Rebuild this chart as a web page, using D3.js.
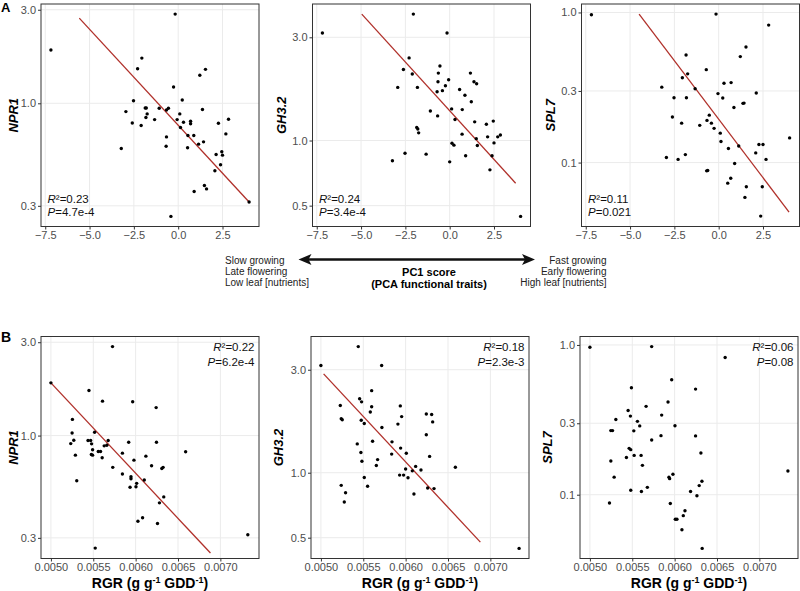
<!DOCTYPE html>
<html><head><meta charset="utf-8">
<script src="https://cdn.jsdelivr.net/npm/d3@7"></script>
<style>
body{margin:0;background:#fff}
svg{display:block}
text{font-family:"Liberation Sans",Arial,Helvetica,sans-serif}
</style>
</head><body>
<svg id="chart" width="800" height="591"></svg>
<script>
// ---------------- DATA ----------------
// Panel A: PC1 score vs expression
const pc1_npr1 = [[-7.18,1.87],[-0.17,2.85],[-2.05,1.70],[-2.29,1.50],[1.22,1.39],[1.54,1.49],[-0.26,1.21],[-2.52,1.03],[0.23,1.04],[-2.95,0.907],[-1.86,0.947],[-1.80,0.947],[-1.75,0.883],[-1.82,0.846],[-2.59,0.794],[-2.09,0.77],[-1.33,0.826],[-1.07,0.943],[-0.55,0.943],[-0.66,0.925],[0.09,0.883],[-0.06,0.826],[0.30,0.80],[0.13,0.752],[0.70,0.81],[0.70,0.786],[1.37,0.929],[2.27,0.791],[2.84,0.829],[2.69,0.698],[-0.66,0.674],[-0.68,0.604],[0.55,0.685],[0.88,0.685],[0.53,0.593],[1.15,0.619],[1.43,0.636],[-3.21,0.588],[2.14,0.548],[2.46,0.566],[2.50,0.544],[2.39,0.486],[2.07,0.453],[1.48,0.381],[1.60,0.366],[0.90,0.355],[4.00,0.314],[-0.41,0.265]];
const pc1_gh32 = [[-7.18,3.14],[-2.05,3.84],[-0.15,3.14],[-2.29,2.41],[-2.61,2.13],[-2.11,2.03],[-0.55,2.21],[-0.64,2.05],[-0.06,1.91],[-0.66,1.87],[-0.24,1.79],[-0.71,1.68],[-0.41,1.70],[-2.93,1.76],[-1.82,1.76],[1.17,2.05],[1.37,1.87],[1.52,1.83],[0.56,1.72],[0.86,1.62],[1.22,1.51],[-1.09,1.37],[-0.68,1.30],[0.11,1.40],[0.30,1.25],[0.71,1.39],[1.41,1.22],[2.07,1.19],[2.46,1.23],[-1.86,1.15],[-1.80,1.13],[-1.75,1.085],[0.70,1.07],[1.50,1.02],[2.14,1.04],[2.71,1.04],[2.86,1.06],[0.13,0.972],[0.24,0.952],[1.56,0.948],[2.50,0.975],[-2.52,0.874],[-1.33,0.865],[0.90,0.85],[2.39,0.85],[-3.23,0.806],[0.00,0.797],[2.27,0.732],[4.00,0.446]];
const pc1_spl7 = [[-7.18,0.965],[-0.15,0.975],[2.82,0.824],[1.54,0.589],[1.22,0.508],[-1.84,0.521],[-0.70,0.416],[-1.75,0.390],[-2.05,0.367],[0.30,0.338],[0.70,0.341],[-3.21,0.318],[-1.33,0.310],[-0.04,0.288],[2.12,0.291],[-2.52,0.270],[-1.82,0.270],[0.23,0.269],[1.37,0.248],[1.43,0.249],[0.86,0.233],[-2.61,0.201],[-0.53,0.207],[-0.66,0.191],[-0.41,0.183],[-2.09,0.183],[-1.07,0.177],[-0.26,0.169],[0.09,0.157],[0.13,0.138],[0.55,0.124],[1.13,0.129],[2.27,0.132],[2.50,0.132],[4.00,0.146],[-2.95,0.108],[-1.88,0.113],[-2.29,0.105],[2.09,0.116],[2.67,0.105],[0.90,0.0985],[-0.68,0.0881],[-0.62,0.0885],[0.68,0.0787],[0.51,0.0729],[1.56,0.069],[2.46,0.069],[1.48,0.0586],[2.37,0.044]];
// Panel B: RGR vs expression
const rgr_npr1 = [[0.00500,1.86],[0.005727,2.85],[0.005449,1.70],[0.005609,1.50],[0.005965,1.49],[0.006242,1.39],[0.005254,1.21],[0.005250,1.03],[0.005516,1.04],[0.005234,0.91],[0.005270,0.947],[0.005438,0.944],[0.005469,0.944],[0.005480,0.907],[0.005492,0.846],[0.005289,0.794],[0.005477,0.80],[0.005492,0.794],[0.005559,0.829],[0.005586,0.829],[0.005605,0.770],[0.005629,0.886],[0.005660,0.893],[0.005676,0.943],[0.005918,0.925],[0.006246,0.925],[0.005844,0.813],[0.005980,0.749],[0.006121,0.785],[0.006188,0.701],[0.006309,0.679],[0.006324,0.688],[0.006590,0.826],[0.005730,0.688],[0.005844,0.636],[0.005945,0.616],[0.005945,0.602],[0.006102,0.593],[0.006012,0.570],[0.006004,0.548],[0.005934,0.544],[0.005305,0.588],[0.006332,0.486],[0.006281,0.453],[0.006082,0.380],[0.006027,0.365],[0.006258,0.355],[0.007324,0.311],[0.005523,0.266]];
const rgr_gh32 = [[0.00500,3.14],[0.005441,3.84],[0.005717,3.14],[0.005599,2.40],[0.005229,2.05],[0.005457,2.20],[0.005480,2.13],[0.005599,2.02],[0.005583,1.91],[0.005937,2.04],[0.005953,1.82],[0.005240,1.78],[0.005252,1.76],[0.005476,1.75],[0.005512,1.69],[0.005909,1.68],[0.005720,1.62],[0.006244,1.87],[0.006307,1.86],[0.006319,1.72],[0.006244,1.50],[0.005429,1.36],[0.005610,1.40],[0.005839,1.39],[0.005941,1.30],[0.005472,1.24],[0.005835,1.22],[0.006008,1.23],[0.006283,1.19],[0.005484,1.13],[0.005669,1.15],[0.005654,1.08],[0.006118,1.07],[0.006181,1.03],[0.006079,1.02],[0.006000,1.04],[0.006587,1.06],[0.005929,0.975],[0.005976,0.975],[0.006028,0.948],[0.005512,0.95],[0.005240,0.874],[0.005551,0.865],[0.006098,0.797],[0.006260,0.85],[0.006335,0.844],[0.005291,0.808],[0.005276,0.732],[0.007339,0.446]];
const rgr_spl7 = [[0.00500,0.965],[0.005729,0.975],[0.006596,0.824],[0.005965,0.585],[0.005490,0.518],[0.006247,0.507],[0.005922,0.416],[0.005663,0.389],[0.005451,0.365],[0.005478,0.335],[0.005847,0.340],[0.005306,0.318],[0.005561,0.309],[0.005588,0.288],[0.006004,0.289],[0.005247,0.268],[0.005267,0.268],[0.005518,0.267],[0.005839,0.248],[0.006247,0.247],[0.005729,0.232],[0.005463,0.204],[0.005482,0.200],[0.006310,0.190],[0.005431,0.177],[0.005522,0.183],[0.005604,0.183],[0.005247,0.168],[0.005620,0.157],[0.007337,0.144],[0.005980,0.137],[0.005933,0.131],[0.005941,0.128],[0.005286,0.131],[0.006322,0.123],[0.006290,0.115],[0.005678,0.112],[0.005482,0.107],[0.005608,0.105],[0.006188,0.105],[0.006263,0.0984],[0.005231,0.088],[0.005949,0.0873],[0.006122,0.0782],[0.006102,0.0725],[0.006008,0.0685],[0.006027,0.0685],[0.006086,0.0583],[0.006325,0.0438]];
// Fitted regression lines (end points)
const fit_pc1_npr1 = [[-5.58,2.72],[4.00,0.314]];
const fit_pc1_gh32 = [[-4.96,3.84],[3.72,0.635]];
const fit_pc1_spl7 = [[-4.49,0.975],[3.97,0.0468]];
const fit_rgr_npr1 = [[0.00500,1.86],[0.006883,0.251]];
const fit_rgr_gh32 = [[0.005032,2.87],[0.006882,0.477]];
// Statistics labels
const stats_pc1 = [["0.23","4.7e-4"],["0.24","3.4e-4"],["0.11","0.021"]];
const stats_rgr = [["0.22","6.2e-4"],["0.18","2.3e-3"],["0.06","0.08"]];
// Tick values
const genes = ["NPR1","GH3.2","SPL7"];
const yTicks = {"NPR1":[0.3,1.0,3.0],"GH3.2":[0.5,1.0,3.0],"SPL7":[0.1,0.3,1.0]};
const pc1Ticks = [-7.5,-5.0,-2.5,0.0,2.5];
const rgrTicks = [0.0050,0.0055,0.0060,0.0065,0.0070];
// Arrow annotation text
const leftLabels = ["Slow growing","Late flowering","Low leaf [nutrients]"];
const rightLabels = ["Fast growing","Early flowering","High leaf [nutrients]"];
const arrowTitle = ["PC1 score","(PCA functional traits)"];

// ---------------- DRAW ----------------
const svg = d3.select("#chart");
const FIT_COLOR = "#b0302a";

function expandLin(vals){const [a,b]=d3.extent(vals);const e=(b-a)*0.05;return [a-e,b+e];}
function expandLog(vals){const l=vals.map(Math.log10);const [a,b]=d3.extent(l);const e=(b-a)*0.05;return [Math.pow(10,a-e),Math.pow(10,b+e)];}

const allPC1 = pc1_npr1.concat(pc1_gh32,pc1_spl7).map(d=>d[0]);
const allRGR = rgr_npr1.concat(rgr_gh32,rgr_spl7).map(d=>d[0]);
const pc1Dom = expandLin(allPC1);
const rgrDom = expandLin(allRGR);
const yDom = {
  "NPR1": expandLog(pc1_npr1.concat(rgr_npr1).map(d=>d[1])),
  "GH3.2": expandLog(pc1_gh32.concat(rgr_gh32).map(d=>d[1])),
  "SPL7": expandLog(pc1_spl7.concat(rgr_spl7).map(d=>d[1]))
};

const panels = [
  {pts:pc1_npr1, fit:fit_pc1_npr1, gene:"NPR1", row:"A", x0:41,   x1:259,   y0:4, y1:226.5, ytx:13.5, stat:stats_pc1[0]},
  {pts:pc1_gh32, fit:fit_pc1_gh32, gene:"GH3.2", row:"A", x0:312.5, x1:530.5, y0:4, y1:226.5, ytx:281, stat:stats_pc1[1]},
  {pts:pc1_spl7, fit:fit_pc1_spl7, gene:"SPL7", row:"A", x0:581.5, x1:799.5, y0:4, y1:226.5, ytx:550.5, stat:stats_pc1[2]},
  {pts:rgr_npr1, fit:fit_rgr_npr1, gene:"NPR1", row:"B", x0:41,   x1:259,   y0:336.5, y1:558.5, ytx:13.5, stat:stats_rgr[0]},
  {pts:rgr_gh32, fit:fit_rgr_gh32, gene:"GH3.2", row:"B", x0:311, x1:529,   y0:336.5, y1:558.5, ytx:278.5, stat:stats_rgr[1]},
  {pts:rgr_spl7, fit:null,         gene:"SPL7", row:"B", x0:580,  x1:798,   y0:336.5, y1:558.5, ytx:547.5, stat:stats_rgr[2]}
];

panels.forEach(p=>{
  const x = d3.scaleLinear().domain(p.row==="A"?pc1Dom:rgrDom).range([p.x0,p.x1]);
  const y = d3.scaleLog().domain(yDom[p.gene]).range([p.y1,p.y0]);
  const xt = p.row==="A"?pc1Ticks:rgrTicks;
  const yt = yTicks[p.gene];
  const g = svg.append("g");
  // grid
  g.selectAll(".gx").data(xt).enter().append("line")
    .attr("x1",d=>x(d)).attr("x2",d=>x(d)).attr("y1",p.y0).attr("y2",p.y1)
    .attr("stroke","#ebebeb").attr("stroke-width",1);
  g.selectAll(".gy").data(yt).enter().append("line")
    .attr("y1",d=>y(d)).attr("y2",d=>y(d)).attr("x1",p.x0).attr("x2",p.x1)
    .attr("stroke","#ebebeb").attr("stroke-width",1);
  // fit line
  if(p.fit){
    g.append("path").datum(p.fit)
      .attr("d",d3.line().x(d=>x(d[0])).y(d=>y(d[1])))
      .attr("stroke",FIT_COLOR).attr("stroke-width",1.3).attr("fill","none");
  }
  // points
  g.selectAll("circle").data(p.pts).enter().append("circle")
    .attr("cx",d=>x(d[0])).attr("cy",d=>y(d[1])).attr("r",1.7).attr("fill","#000");
  // border
  g.append("rect").attr("x",p.x0).attr("y",p.y0).attr("width",p.x1-p.x0).attr("height",p.y1-p.y0)
    .attr("fill","none").attr("stroke","#333").attr("stroke-width",1);
  // axes
  const ax = g.append("g").attr("transform",`translate(0,${p.y1})`)
    .call(d3.axisBottom(x).tickValues(xt).tickFormat(d3.format(p.row==="A"?".1f":".4f")).tickSize(3).tickPadding(2));
  const ay = g.append("g").attr("transform",`translate(${p.x0},0)`)
    .call(d3.axisLeft(y).tickValues(yt).tickFormat(d3.format(".1f")).tickSize(3).tickPadding(2));
  [ax,ay].forEach(a=>{
    a.select(".domain").remove();
    a.selectAll(".tick line").attr("stroke","#333");
    a.selectAll(".tick text").attr("fill","#4d4d4d").style("font-size","11px")
      .style("font-family","'Liberation Sans',Arial,sans-serif");
  });
  // y title
  g.append("text").attr("transform",`translate(${p.ytx},${(p.y0+p.y1)/2}) rotate(-90)`)
    .attr("text-anchor","middle").attr("dy","0.35em")
    .style("font-size","13px").style("font-weight","bold").style("font-style","italic").text(p.gene);
  // stats (one text element per line)
  const st = g.append("g").style("font-size","11.5px").attr("fill","#111");
  const isA = p.row==="A";
  const sx = isA ? p.x0+6.5 : p.x1-4.5;
  const sy = isA ? [203,216] : [351,366];
  const anchor = isA ? "start" : "end";
  const t1 = st.append("text").attr("x",sx).attr("y",sy[0]).attr("text-anchor",anchor);
  t1.append("tspan").style("font-style","italic").text("R");
  t1.append("tspan").text("²="+p.stat[0]);
  const t2 = st.append("text").attr("x",sx).attr("y",sy[1]).attr("text-anchor",anchor);
  t2.append("tspan").style("font-style","italic").text("P");
  t2.append("tspan").text("="+p.stat[1]);
  if(!isA){
    const xt2 = g.append("text").attr("x",(p.x0+p.x1)/2).attr("y",587.5).attr("text-anchor","middle")
      .style("font-size","14px").style("font-weight","bold");
    xt2.append("tspan").text("RGR (g g");
    xt2.append("tspan").attr("dy",-5).style("font-size","9px").text("-1");
    xt2.append("tspan").attr("dy",5).text(" GDD");
    xt2.append("tspan").attr("dy",-5).style("font-size","9px").text("-1");
    xt2.append("tspan").attr("dy",5).text(")");
  }
});

// panel letters
svg.append("text").attr("x",1).attr("y",11.5).style("font-size","13px").style("font-weight","bold").text("A");
svg.append("text").attr("x",1).attr("y",341.5).style("font-size","14px").style("font-weight","bold").text("B");

// arrow annotation
const arrowY = 259.5, axL = 298.5, axR = 535;
svg.append("line").attr("x1",axL+8).attr("x2",axR-8).attr("y1",arrowY).attr("y2",arrowY)
  .attr("stroke","#111").attr("stroke-width",2.6);
svg.append("path").attr("d",`M${axL},${arrowY} L${axL+13},${arrowY-5.5} L${axL+10},${arrowY} L${axL+13},${arrowY+5.5} Z`).attr("fill","#111");
svg.append("path").attr("d",`M${axR},${arrowY} L${axR-13},${arrowY-5.5} L${axR-10},${arrowY} L${axR-13},${arrowY+5.5} Z`).attr("fill","#111");

leftLabels.forEach((t,i)=>svg.append("text").attr("x",225).attr("y",263.5+i*11.3)
  .style("font-size","10px").attr("fill","#222").text(t));
rightLabels.forEach((t,i)=>svg.append("text").attr("x",606.5).attr("y",263.5+i*11.3).attr("text-anchor","end")
  .style("font-size","10px").attr("fill","#222").text(t));
arrowTitle.forEach((t,i)=>svg.append("text").attr("x",429).attr("y",276+i*11.5).attr("text-anchor","middle")
  .style("font-size","11px").style("font-weight","bold").text(t));
</script>
</body></html>
